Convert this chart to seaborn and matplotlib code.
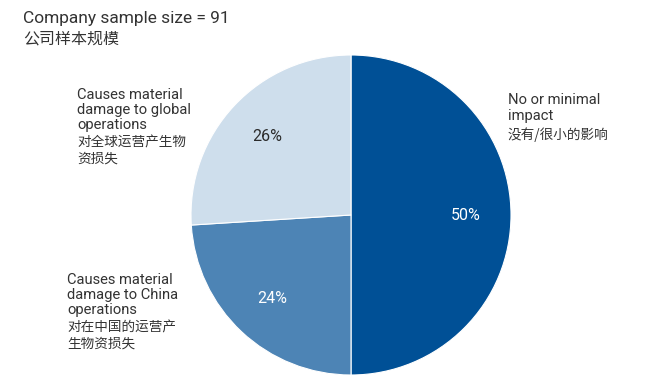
import matplotlib
matplotlib.use("Agg")
import matplotlib.pyplot as plt
import seaborn as sns

sns.set_theme(style="white")
plt.rcParams["font.family"] = ["Roboto", "Noto Sans CJK SC", "DejaVu Sans"]

# Survey results
categories_en = ["No or minimal\nimpact",
                 "Causes material\ndamage to China\noperations",
                 "Causes material\ndamage to global\noperations"]
categories_zh = ["没有/很小的影响",
                 "对在中国的运营产\n生物资损失",
                 "对全球运营产生物\n资损失"]
shares = [50, 24, 26]
slice_colors = ["#005096", "#4d84b5", "#cedeec"]
pct_colors = ["white", "white", "#2b2b2b"]

W, H = 652, 376
fig = plt.figure(figsize=(W / 100, H / 100), dpi=100)

cx, cy, r = 351, 215, 160
ax = fig.add_axes([(cx - r) / W, (H - cy - r) / H, 2 * r / W, 2 * r / H])
wedges, _, autotexts = ax.pie(
    shares, colors=slice_colors, startangle=90, counterclock=False,
    autopct=lambda p: f"{p:.0f}%", pctdistance=0.72,
    wedgeprops=dict(linewidth=0.8, edgecolor="white"),
    textprops=dict(fontsize=11.5),
)
for t, c in zip(autotexts, pct_colors):
    t.set_color(c)
ax.set_xlim(-1, 1)
ax.set_ylim(-1, 1)
ax.set_aspect("equal")
ax.axis("off")

txt_color = "#333333"
zh = ["Noto Sans CJK SC", "DejaVu Sans"]


def put(x, y, s, size, weight="normal", family=None, ls=1.1):
    kw = {}
    if family:
        kw["family"] = family
    fig.text(x / W, 1 - y / H, s, fontsize=size, color=txt_color,
             fontweight=weight, ha="left", va="center",
             linespacing=ls, **kw)


# Title lines
put(23, 19, "Company sample size = 91", 12.5)
put(23, 39, "公司样本规模", 11.5, weight="medium", family=zh)

# Slice labels
put(508, 108, categories_en[0], 10.6)
put(508, 135, categories_zh[0], 9.8, family=zh)

put(67, 295, categories_en[1], 10.6)
put(67, 336, categories_zh[1], 9.8, family=zh, ls=1.2)

put(77, 110, categories_en[2], 10.6)
put(77, 151, categories_zh[2], 9.8, family=zh, ls=1.2)

fig.savefig("out.png", dpi=100, facecolor="white")
